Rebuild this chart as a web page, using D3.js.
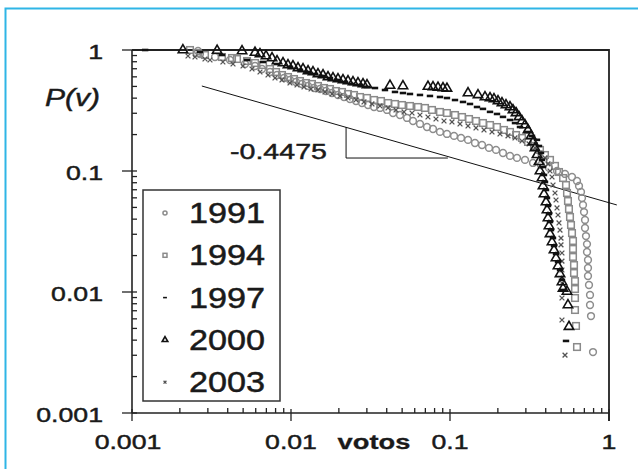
<!DOCTYPE html>
<html><head><meta charset="utf-8">
<script src="https://cdn.jsdelivr.net/npm/d3@7"></script>
<style>body{margin:0;background:#fff}svg{display:block}text{font-family:"Liberation Sans",Arial,sans-serif}</style>
</head><body><svg id="c" width="638" height="469"></svg>
<script>
const years = ["1991","1994","1997","2000","2003"];

const votos1991 = [0.002601,0.002677,0.003327,0.004134,0.005137,0.005938,0.006571,0.007378,0.008168,0.009036,0.009856,0.01075,0.01173,0.0128,0.01395,0.01522,0.0166,0.01811,0.01975,0.02154,0.0235,0.02563,0.02796,0.0305,0.03327,0.03628,0.04016,0.04381,0.04846,0.05365,0.05852,0.06474,0.07167,0.07818,0.08648,0.0957,0.106,0.1173,0.1298,0.1436,0.159,0.1759,0.1947,0.2154,0.2384,0.2638,0.2963,0.3327,0.3735,0.4193,0.471,0.5288,0.5852,0.6291,0.6477,0.6667,0.6764,0.6863,0.6964,0.7065,0.7065,0.7166,0.7271,0.7271,0.7377,0.7377,0.7377,0.7485,0.7596,0.7596,0.7706,0.7932];
const p1991     = [0.981,0.9267,0.8752,0.8268,0.7663,0.7377,0.6966,0.6581,0.6214,0.5871,0.5652,0.5441,0.5238,0.5043,0.4854,0.4762,0.4584,0.4413,0.4249,0.409,0.3937,0.379,0.3648,0.3511,0.3381,0.3319,0.3195,0.3015,0.2903,0.2744,0.259,0.2448,0.231,0.2224,0.2103,0.2024,0.1949,0.1876,0.1806,0.1704,0.164,0.1551,0.1493,0.1409,0.1332,0.1283,0.1235,0.1165,0.1121,0.1061,0.1,0.0945,0.0892,0.0827,0.0752,0.0671,0.0598,0.0524,0.0458,0.0394,0.0338,0.029,0.0249,0.0214,0.0184,0.0158,0.01356,0.01143,0.00945,0.00781,0.00633,0.00319];

const votos1994 = [0.002316,0.002563,0.002878,0.00368,0.004256,0.004575,0.00529,0.005938,0.00667,0.007378,0.008051,0.008777,0.009575,0.01044,0.01139,0.01243,0.01355,0.01478,0.01613,0.01759,0.01919,0.02093,0.02283,0.0249,0.02716,0.03006,0.03327,0.03681,0.04074,0.04508,0.0499,0.05601,0.06291,0.0696,0.07705,0.08648,0.0957,0.1075,0.119,0.1317,0.1457,0.1612,0.1785,0.1975,0.2186,0.2384,0.2602,0.2837,0.3095,0.3375,0.3681,0.3958,0.4256,0.4575,0.4847,0.514,0.5365,0.5443,0.552,0.56,0.5685,0.5768,0.5852,0.5937,0.5937,0.5937,0.6024,0.6024,0.6112,0.6112,0.6112,0.6112,0.6201,0.6291];
const p1994     = [1.0,0.9445,0.909,0.8752,0.8589,0.8427,0.8112,0.7809,0.7517,0.6966,0.6581,0.6214,0.5982,0.5758,0.5543,0.5336,0.5238,0.5043,0.4854,0.4762,0.4584,0.4499,0.4331,0.4249,0.409,0.4014,0.3864,0.379,0.3648,0.3581,0.3511,0.3447,0.3381,0.3319,0.3195,0.3076,0.3015,0.2903,0.2795,0.269,0.259,0.2493,0.24,0.231,0.2184,0.2103,0.1984,0.1876,0.1739,0.1611,0.1493,0.1356,0.1235,0.1102,0.0981,0.0875,0.0766,0.0658,0.0565,0.0485,0.0417,0.0358,0.0307,0.0264,0.0227,0.0195,0.0167,0.01436,0.0123,0.01059,0.00892,0.0071,0.00524,0.00351];

const votos1997 = [0.00121,0.002677,0.00368,0.00529,0.00667,0.008168,0.009856,0.01139,0.0128,0.01416,0.01567,0.01759,0.01975,0.02186,0.02419,0.02716,0.03006,0.03375,0.039,0.04508,0.0506,0.05601,0.06474,0.07482,0.08648,0.0957,0.1075,0.1207,0.1336,0.1478,0.1612,0.1785,0.1975,0.2154,0.2384,0.2563,0.2755,0.305,0.3279,0.3525,0.3628,0.3735,0.3789,0.3846,0.3901,0.3958,0.4016,0.4074,0.4134,0.4193,0.4256,0.4317,0.4444,0.451,0.4642,0.4778,0.4919,0.506,0.514,0.5365];
const p1997     = [1.0,0.963,0.909,0.827,0.796,0.766,0.724,0.684,0.658,0.634,0.61,0.587,0.565,0.544,0.524,0.514,0.495,0.485,0.467,0.45,0.441,0.433,0.425,0.417,0.409,0.401,0.386,0.372,0.358,0.338,0.326,0.308,0.296,0.28,0.264,0.249,0.231,0.21,0.195,0.181,0.161,0.141,0.1235,0.108,0.0927,0.0811,0.0697,0.0598,0.0514,0.0441,0.0379,0.0325,0.0279,0.024,0.0206,0.0177,0.0152,0.0126,0.0104,0.00394];

const votos2000 = [0.00209,0.00343,0.00492,0.005938,0.006383,0.006965,0.007598,0.008168,0.008907,0.009575,0.01029,0.01107,0.0119,0.0128,0.01375,0.01478,0.0159,0.01709,0.01837,0.01975,0.02123,0.02283,0.02454,0.02638,0.02837,0.03006,0.04193,0.0506,0.0727,0.07818,0.08405,0.09036,0.0957,0.1298,0.15,0.166,0.1785,0.1891,0.2004,0.2123,0.225,0.2384,0.249,0.2602,0.2716,0.2837,0.2963,0.3095,0.3233,0.3327,0.3424,0.3525,0.3628,0.3681,0.3789,0.3846,0.3901,0.4016,0.4074,0.4134,0.4193,0.4256,0.4382,0.451,0.4642,0.4778,0.4919,0.506,0.514,0.5443,0.552,0.56];
const p2000     = [1.0,0.99,0.981,0.953,0.927,0.892,0.859,0.811,0.781,0.751,0.738,0.71,0.697,0.67,0.658,0.634,0.621,0.598,0.587,0.576,0.565,0.554,0.544,0.534,0.524,0.514,0.509,0.504,0.499,0.495,0.49,0.485,0.481,0.441,0.425,0.409,0.401,0.394,0.379,0.365,0.351,0.338,0.3195,0.302,0.28,0.259,0.24,0.218,0.195,0.174,0.155,0.136,0.119,0.1,0.0875,0.0752,0.0645,0.0554,0.0476,0.0409,0.0351,0.0302,0.0259,0.0222,0.0191,0.0164,0.0141,0.0121,0.0107,0.0101,0.00781,0.00517];

const votos2003 = [0.00225,0.00249,0.002878,0.003094,0.00373,0.004318,0.004991,0.005685,0.006383,0.007169,0.007932,0.008777,0.009856,0.01091,0.01207,0.01336,0.01478,0.01636,0.01811,0.02033,0.02283,0.02563,0.02878,0.0323,0.03628,0.04074,0.04575,0.05137,0.05768,0.06474,0.07269,0.08163,0.09169,0.1029,0.1156,0.1298,0.1457,0.1636,0.1837,0.2063,0.2316,0.2563,0.2837,0.3141,0.3424,0.3681,0.3958,0.4134,0.4256,0.4382,0.4446,0.4575,0.4642,0.471,0.4778,0.4847,0.4919,0.499,0.499,0.506,0.506,0.506,0.506,0.506,0.506,0.5288];
const p2003     = [0.8922,0.8752,0.8427,0.8268,0.796,0.7663,0.7377,0.6966,0.6581,0.6214,0.5871,0.5652,0.5336,0.5138,0.4946,0.4762,0.4673,0.4499,0.4331,0.4169,0.4014,0.3864,0.372,0.3581,0.3447,0.3319,0.3195,0.3076,0.3015,0.2903,0.2795,0.269,0.259,0.2543,0.2448,0.2357,0.2269,0.2184,0.2103,0.2024,0.1949,0.1876,0.177,0.1674,0.1551,0.1409,0.1283,0.1144,0.1,0.0892,0.0766,0.0658,0.0576,0.0495,0.0433,0.0372,0.0325,0.0279,0.0245,0.021,0.018,0.0152,0.01187,0.00892,0.00587,0.00301];

const xTicks = [0.001,0.01,0.1,1];
const xTickLabels = ["0.001","0.01","0.1","1"];
const yTicks = [0.001,0.01,0.1,1];
const yTickLabels = ["0.001","0.01","0.1","1"];
const xTitle = "votos";
const yTitle = "P(v)";
const slopeLabel = "-0.4475";
const slopeLineX = [0.00275,1.12];
const slopeLineY = [0.504,0.0524];
const slopeBoxX = [0.0222,0.0222,0.097];
const slopeBoxY = [0.231,0.128,0.128];

const svg = d3.select("#c");
const x = d3.scaleLog().domain([0.001,1]).range([132,609]);
const y = d3.scaleLog().domain([0.001,1]).range([413,50]);
const axisColor = "#222";

// cyan frame
svg.append("rect").attr("x",5.5).attr("y",8.5).attr("width",700).attr("height",600)
  .attr("fill","none").attr("stroke","#2fb5e6").attr("stroke-width",2);

function txt(s, px, py, o) {
  o = o || {};
  return svg.append("text")
    .attr("transform", `translate(${px},${py}) scale(${o.sx||1.27},1)`)
    .attr("text-anchor", o.anchor || "middle")
    .attr("font-size", o.size || 21)
    .attr("font-weight", o.weight || "normal")
    .attr("font-style", o.style || "normal")
    .attr("fill", o.fill || "#1a1a1a")
    .attr("stroke", o.fill || "#1a1a1a")
    .attr("stroke-width", o.sw == null ? 0.45 : o.sw)
    .text(s);
}

// frame top & right
svg.append("path").attr("d", `M${x(0.001)},${y(1)}H${x(1)}V${y(0.001)+8}`)
  .attr("fill","none").attr("stroke",axisColor).attr("stroke-width",1.8);
// axes
svg.append("line").attr("x1",x(0.001)).attr("x2",x(1)).attr("y1",y(0.001)).attr("y2",y(0.001)).attr("stroke",axisColor).attr("stroke-width",1.6);
svg.append("line").attr("x1",x(0.001)).attr("x2",x(0.001)).attr("y1",y(1)).attr("y2",y(0.001)).attr("stroke",axisColor).attr("stroke-width",1.6);

const minorX = x.ticks().filter(v => !xTicks.some(t => Math.abs(t - v) / t < 1e-9));
const minorY = y.ticks().filter(v => !yTicks.some(t => Math.abs(t - v) / t < 1e-9));
const tg = svg.append("g").attr("stroke",axisColor).attr("stroke-width",1.3);
minorX.forEach(v => tg.append("line").attr("x1",x(v)).attr("x2",x(v)).attr("y1",y(0.001)).attr("y2",y(0.001)-5));
xTicks.forEach(v => tg.append("line").attr("x1",x(v)).attr("x2",x(v)).attr("y1",y(0.001)-4).attr("y2",y(0.001)+8));
minorY.forEach(v => tg.append("line").attr("x1",x(0.001)).attr("x2",x(0.001)+5).attr("y1",y(v)).attr("y2",y(v)));
yTicks.forEach(v => tg.append("line").attr("x1",x(0.001)-10).attr("x2",x(0.001)+5).attr("y1",y(v)).attr("y2",y(v)));

xTicks.forEach((v,i) => txt(xTickLabels[i], x(v) - (i==0?4:0), 449));
yTicks.forEach((v,i) => txt(yTickLabels[i], 103, y(v) + 8.5, {anchor:"end"}));
txt(xTitle, 374, 449, {weight:"bold", sx:1.3, sw:0.3});
txt(yTitle, 45, 106, {anchor:"start", style:"italic", size:24, sx:1.25});

// slope line
const line = d3.line().x(d => x(d[0])).y(d => y(d[1]));
svg.append("path").attr("d", line(d3.zip(slopeLineX, slopeLineY))).attr("fill","none").attr("stroke","#111").attr("stroke-width",1);
svg.append("path").attr("d", line(d3.zip(slopeBoxX, slopeBoxY))).attr("fill","none").attr("stroke","#111").attr("stroke-width",1);
txt(slopeLabel, 230, 159, {anchor:"start", size:22, sx:1.3});

// markers
const sym = {
  "1991": (g, s) => g.append("circle").attr("r", 3.4*s).attr("fill","none").attr("stroke","#8d8d8d").attr("stroke-width",1.5),
  "1994": (g, s) => g.append("rect").attr("x",-3.3*s).attr("y",-3.3*s).attr("width",6.6*s).attr("height",6.6*s).attr("fill","none").attr("stroke","#8a8a8a").attr("stroke-width",1.5),
  "1997": (g, s) => g.append("rect").attr("x",-3.2*s).attr("y",-1.3*s).attr("width",6.4*s).attr("height",2.6*s).attr("fill","#111"),
  "2000": (g, s) => g.append("path").attr("d", d3.symbol(d3.symbolTriangle, 38*s*s)()).attr("fill","none").attr("stroke","#111").attr("stroke-width",1.6),
  "2003": (g, s) => g.append("path").attr("d", `M${-2.4*s},${-2.4*s}L${2.4*s},${2.4*s}M${-2.4*s},${2.4*s}L${2.4*s},${-2.4*s}`).attr("stroke","#555").attr("stroke-width",1.3)
};
const series = [
  ["1991", votos1991, p1991],
  ["1994", votos1994, p1994],
  ["2003", votos2003, p2003],
  ["1997", votos1997, p1997],
  ["2000", votos2000, p2000]
];
series.forEach(([name, xs, ys]) => {
  const g = svg.append("g");
  d3.zip(xs, ys).forEach(d => {
    const m = g.append("g").attr("transform", `translate(${x(d[0])},${y(d[1])})`);
    sym[name](m, 1);
  });
});

// legend
svg.append("rect").attr("x",143).attr("y",190).attr("width",137).attr("height",211)
  .attr("fill","#fff").attr("stroke","#333").attr("stroke-width",1.5);
years.forEach((yr, i) => {
  const by = 223 + i * 42.3;
  const m = svg.append("g").attr("transform", `translate(165,${by - 10})`);
  sym[yr](m, 0.6);
  txt(yr, 189, by, {anchor:"start", size:30, sx:1.14, sw:0.5});
});
</script></body></html>
